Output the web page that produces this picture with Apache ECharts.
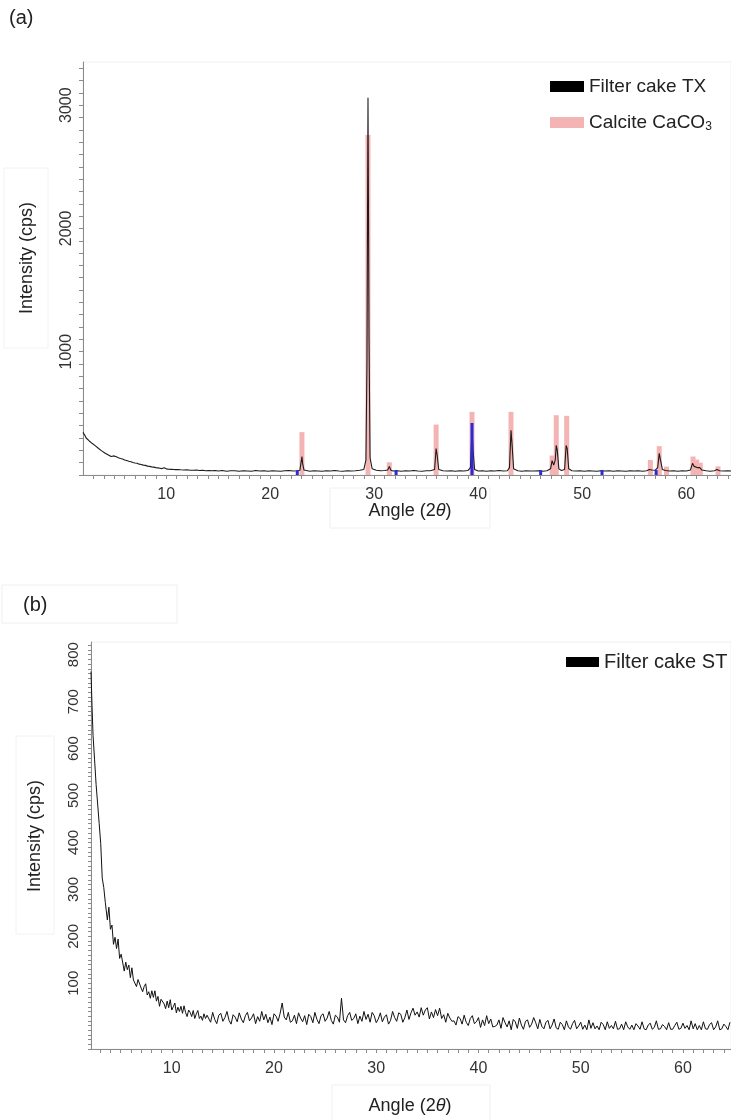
<!DOCTYPE html>
<html>
<head>
<meta charset="utf-8">
<script src="https://cdn.jsdelivr.net/npm/echarts@6/dist/echarts.min.js"></script>
<style>
html, body { margin: 0; padding: 0; background: #ffffff; }
#chart { width: 731px; height: 1120px; }
</style>
</head>
<body>
<div id="chart"></div>
<script>
// ---- (a) Filter cake TX: measured scan [2θ, cps] ----
const TX_SCAN = [
  [2.0,346],[2.1,330],[2.2,318],[2.3,300],[2.45,290],[2.6,276],[2.75,270],[2.9,255],[3.05,248],[3.2,236],
  [3.35,228],[3.5,215],[3.65,210],[3.8,196],[3.95,190],[4.1,178],[4.25,172],[4.4,165],[4.55,170],[4.7,150],
  [4.85,140],[5.0,155],[5.2,148],[5.4,140],[5.6,134],[5.8,130],[6.0,122],[6.2,118],[6.4,112],[6.6,108],
  [6.8,102],[7.0,98],[7.2,95],[7.4,88],[7.6,85],[7.8,80],[8.0,78],[8.2,72],[8.4,70],[8.6,66],
  [8.8,64],[9.0,60],[9.2,58],[9.4,55],[9.6,52],[9.8,58],[10.0,50],[10.2,48],[10.5,46],[10.8,44],
  [11.1,45],[11.4,42],[11.7,40],[12.0,43],[12.3,39],[12.6,38],[12.9,40],[13.2,36],[13.5,38],[13.8,35],
  [14.1,37],[14.4,34],[14.7,36],[15.0,33],[15.4,36],[15.8,31],[16.2,35],[16.6,34],[17.0,30],[17.4,35],
  [17.8,33],[18.2,31],[18.6,36],[19.0,32],[19.4,34],[19.8,30],[20.2,35],[20.6,33],[21.0,31],[21.4,34],
  [21.8,36],[22.2,32],[22.6,35],[22.85,38],[23.0,120],[23.05,150],[23.12,90],[23.25,40],[23.4,34],[23.8,31],
  [24.2,35],[24.6,33],[25.0,30],[25.4,34],[25.8,32],[26.2,36],[26.6,33],[27.0,31],[27.4,35],[27.8,32],
  [28.2,34],[28.6,38],[29.0,45],[29.2,120],[29.3,900],[29.4,3060],[29.5,1100],[29.6,140],[29.8,50],[30.2,38],
  [30.6,34],[31.0,36],[31.3,40],[31.45,70],[31.6,38],[31.8,33],[32.2,35],[32.6,31],[33.0,34],[33.4,32],
  [33.8,36],[34.2,33],[34.6,31],[35.0,35],[35.4,34],[35.8,45],[35.95,215],[36.05,160],[36.2,45],[36.6,34],
  [37.0,32],[37.4,35],[37.8,31],[38.2,34],[38.6,33],[39.0,36],[39.25,60],[39.4,380],[39.5,200],[39.65,45],
  [40.0,33],[40.4,35],[40.8,31],[41.2,34],[41.6,32],[42.0,36],[42.4,33],[42.8,35],[43.0,60],[43.15,362],
  [43.25,250],[43.4,50],[43.8,34],[44.2,31],[44.6,35],[45.0,33],[45.4,32],[45.8,34],[46.2,31],[46.6,35],
  [46.95,50],[47.1,117],[47.25,80],[47.4,120],[47.5,240],[47.6,200],[47.75,50],[48.0,36],[48.3,45],[48.45,240],
  [48.55,215],[48.7,50],[49.0,34],[49.4,32],[49.8,35],[50.2,31],[50.6,34],[51.0,33],[51.4,30],[51.8,35],
  [52.2,32],[52.6,34],[53.0,31],[53.4,35],[53.8,33],[54.2,30],[54.6,34],[55.0,32],[55.4,35],[55.8,31],
  [56.2,34],[56.45,45],[56.55,60],[56.7,40],[57.0,38],[57.25,60],[57.4,175],[57.5,130],[57.7,45],[58.0,36],
  [58.4,33],[58.8,35],[59.2,31],[59.6,34],[60.0,33],[60.4,40],[60.6,95],[60.75,70],[60.9,80],[61.05,60],
  [61.3,60],[61.5,40],[61.9,34],[62.3,31],[62.7,35],[62.95,45],[63.05,50],[63.2,35],[63.6,32],[64.0,34],
  [64.3,33]
];

// Calcite CaCO3 reference reflections [2θ, cps]
const CALCITE_PEAKS = [
  [23.05,348],[29.4,2758],[31.45,103],[35.95,409],[39.4,512],[43.15,512],[47.1,158],[47.5,485],
  [48.5,480],[56.55,122],[57.4,234],[58.1,68],[60.65,150],[61.0,125],[61.35,100],[63.05,70]
];

// second phase reflections (blue sticks) [2θ, cps]
const SECOND_PHASE_PEAKS = [
  [22.6,38],[32.1,40],[39.4,422],[46.0,40],[51.9,40],[57.1,40]
];

// ---- (b) Filter cake ST: measured scan [2θ, cps] ----
const ST_SCAN = [
  [2.1,764],[2.2,691],[2.3,628],[2.45,576],[2.6,523],[2.75,482],[2.9,440],[3.05,398],[3.2,324],[3.35,304],
  [3.5,272],[3.7,235],[3.85,262],[4.0,215],[4.15,224],[4.3,183],[4.45,198],[4.6,174],[4.75,194],[4.9,153],
  [5.05,162],[5.2,166],[5.35,126],[5.5,145],[5.65,129],[5.8,139],[5.95,112],[6.1,133],[6.25,107],[6.4,111],
  [6.55,93],[6.7,108],[6.85,108],[7.0,90],[7.15,82],[7.3,93],[7.45,99],[7.6,75],[7.75,82],[7.9,68],
  [8.05,84],[8.2,70],[8.35,84],[8.5,62],[8.65,72],[8.8,51],[8.95,66],[9.1,70],[9.25,56],[9.4,46],
  [9.55,62],[9.7,48],[9.85,65],[10.0,43],[10.15,50],[10.3,58],[10.45,37],[10.6,49],[10.75,40],[10.9,51],
  [11.05,36],[11.2,52],[11.35,38],[11.5,29],[11.65,43],[11.8,38],[11.95,29],[12.1,42],[12.25,25],[12.4,35],
  [12.55,42],[12.7,25],[12.85,30],[13.0,21],[13.15,35],[13.3,25],[13.45,32],
  [13.6,30],[13.8,17],[14.0,38],[14.2,23],[14.4,14],[14.6,32],[14.8,36],[15.0,19],[15.2,27],[15.4,40],
  [15.6,21],[15.8,13],[16.0,33],[16.2,28],[16.4,18],[16.6,37],[16.8,24],[17.0,16],[17.2,31],[17.4,38],
  [17.6,20],[17.8,26],[18.0,35],[18.2,14],[18.4,29],[18.6,19],[18.8,40],[19.0,22],[19.2,34],[19.4,16],
  [19.6,28],[19.8,12],[20.0,35],[20.2,30],[20.4,19],[20.6,36],[20.8,58],[21.0,28],[21.2,22],[21.4,38],
  [21.6,17],[21.8,20],[22.0,32],[22.2,14],[22.4,37],[22.6,26],[22.8,18],[23.0,31],[23.2,12],[23.4,34],
  [23.6,29],[23.8,16],[24.0,38],[24.2,23],[24.4,14],[24.6,31],[24.8,35],[25.0,19],[25.2,26],[25.4,40],
  [25.6,21],[25.8,13],[26.0,32],[26.2,28],[26.4,17],[26.6,68],[26.8,22],[27.0,16],[27.2,31],[27.4,38],
  [27.6,21],[27.8,25],[28.0,35],[28.2,14],[28.4,30],[28.6,19],[28.8,40],[29.0,23],[29.2,34],[29.4,17],
  [29.6,38],[29.8,31],[30.0,16],[30.2,24],[30.4,37],[30.6,18],[30.8,28],[31.0,33],[31.2,13],[31.4,21],
  [31.6,40],[31.8,27],[32.0,19],[32.2,37],[32.4,34],[32.6,17],[32.8,27],[33.0,43],[33.2,23],[33.4,37],
  [33.6,47],[33.8,32],[34.0,39],[34.2,28],[34.4,48],[34.6,32],[34.8,43],[35.0,48],[35.2,24],[35.4,39],
  [35.6,27],[35.8,44],[36.0,31],[36.2,47],[36.4,25],[36.6,33],[36.8,17],[37.0,36],[37.2,26],[37.4,19],
  [37.6,20],[37.8,11],[38.0,29],[38.2,25],[38.4,13],[38.6,32],[38.8,17],[39.0,10],[39.2,25],[39.4,31],
  [39.6,14],[39.8,18],[40.0,27],[40.2,6],[40.4,22],[40.6,10],[40.8,31],[41.0,14],[41.2,24],[41.4,7],
  [41.6,8],[41.8,11],[42.0,22],[42.2,4],[42.4,27],[42.6,16],[42.8,7],[43.0,20],[43.2,1],[43.4,23],
  [43.6,18],[43.8,4],[44.0,26],[44.2,11],[44.4,2],[44.6,19],[44.8,22],[45.0,6],[45.2,13],[45.4,27],
  [45.6,16],[45.8,3],[46.0,23],[46.2,8],[46.4,3],[46.6,17],[46.8,21],[47.0,3],[47.2,11],[47.4,24],
  [47.6,5],[47.8,2],[48.0,17],[48.2,12],[48.4,1],[48.6,20],[48.8,7],[49.0,2],[49.2,14],[49.4,21],
  [49.6,3],[49.8,9],[50.0,17],[50.2,2],[50.4,11],[50.6,1],[50.8,22],[51.0,4],[51.2,16],[51.4,3],
  [51.6,9],[51.8,1],[52.0,17],[52.2,12],[52.4,1],[52.6,18],[52.8,4],[53.0,10],[53.2,3],[53.4,19],
  [53.6,2],[53.8,3],[54.0,13],[54.2,1],[54.4,18],[54.6,7],[54.8,2],[55.0,11],[55.2,1],[55.4,14],
  [55.6,9],[55.8,2],[56.0,18],[56.2,3],[56.4,1],[56.6,11],[56.8,15],[57.0,2],[57.2,6],[57.4,20],
  [57.6,2],[57.8,3],[58.0,12],[58.2,8],[58.4,1],[58.6,16],[58.8,2],[59.0,2],[59.2,10],[59.4,17],
  [59.6,2],[59.8,4],[60.0,15],[60.2,4],[60.4,10],[60.6,1],[60.8,20],[61.0,3],[61.2,14],[61.4,1],
  [61.6,10],[61.8,1],[62.0,18],[62.2,3],[62.4,2],[62.6,12],[62.8,16],[63.0,1],[63.2,7],[63.4,20],
  [63.6,1],[63.8,3],[64.0,13],[64.2,8],[64.4,1],[64.6,17]
];

// tick labels
const ANGLE_LABELS = [10, 20, 30, 40, 50, 60];
const TX_INTENSITY_LABELS = [1000, 2000, 3000];
const ST_INTENSITY_LABELS = [100, 200, 300, 400, 500, 600, 700, 800];

// minor tick positions (every 1° on angle, every 100 / 10 cps on intensity)
function ticks(from, to, step) {
  const out = [];
  for (let v = from; v <= to + 1e-9; v += step) out.push(Math.round(v * 100) / 100);
  return out;
}
const ANGLE_TICKS = ticks(3, 64, 1);
const TX_INTENSITY_TICKS = ticks(0, 3300, 100);
const ST_INTENSITY_TICKS = ticks(-40, 820, 10);

const FONT = 'Liberation Sans, Arial, Helvetica, sans-serif';
const AXIS_GREY = '#8a8a8a';
const LABEL_GREY = '#333333';
const TEXT = '#222222';
const plain = function (v) { return String(v); };

function angleAxis(gridIndex, min, max, visible) {
  return {
    type: 'value', gridIndex: gridIndex, min: min, max: max, show: visible,
    axisLine: { show: true, onZero: false, lineStyle: { color: AXIS_GREY, width: 1 } },
    axisTick: { show: true, customValues: ANGLE_TICKS, length: 4, lineStyle: { color: AXIS_GREY } },
    axisLabel: { customValues: ANGLE_LABELS, formatter: plain, fontSize: 16, color: LABEL_GREY, fontFamily: FONT, margin: 12 },
    splitLine: { show: false }
  };
}

function titleText(x, y) {
  return {
    type: 'text', x: x, y: y,
    style: {
      text: '{n|Angle (2}{t|θ}{n|)}', align: 'center', verticalAlign: 'middle',
      rich: { n: { font: '18px ' + FONT, fill: TEXT }, t: { font: 'italic 18px ' + FONT, fill: TEXT } }
    }
  };
}

const chart = echarts.init(document.getElementById('chart'), null, { renderer: 'canvas' });

chart.setOption({
  animation: false,
  backgroundColor: '#ffffff',
  grid: [
    { left: 83, top: 62, width: 648, height: 413, show: true, borderColor: '#f0f0f0', borderWidth: 1 },
    { left: 91, top: 642, width: 640, height: 407, show: true, borderColor: '#f0f0f0', borderWidth: 1 }
  ],
  xAxis: [
    angleAxis(0, 2.0, 64.3, true),
    angleAxis(0, 2.0, 64.3, false),
    angleAxis(1, 2.1, 64.7, true)
  ],
  yAxis: [
    {
      type: 'value', gridIndex: 0, min: 0, max: 3350,
      axisLine: { show: true, onZero: false, lineStyle: { color: AXIS_GREY, width: 1 } },
      axisTick: { show: true, customValues: TX_INTENSITY_TICKS, length: 4, lineStyle: { color: AXIS_GREY } },
      axisLabel: { customValues: TX_INTENSITY_LABELS, formatter: plain, rotate: 90, fontSize: 16, color: LABEL_GREY, fontFamily: FONT, margin: 8 },
      splitLine: { show: false }
    },
    {
      type: 'value', gridIndex: 1, min: -40, max: 827,
      axisLine: { show: true, onZero: false, lineStyle: { color: AXIS_GREY, width: 1 } },
      axisTick: { show: true, customValues: ST_INTENSITY_TICKS, length: 3, lineStyle: { color: AXIS_GREY } },
      axisLabel: { customValues: ST_INTENSITY_LABELS, formatter: plain, rotate: 90, fontSize: 15, color: LABEL_GREY, fontFamily: FONT, margin: 10 },
      splitLine: { show: false }
    }
  ],
  legend: [
    {
      data: ['Filter cake TX', 'Calcite CaCO3'],
      orient: 'vertical', left: 545, top: 72, itemGap: 17,
      itemWidth: 34, itemHeight: 11, icon: 'rect',
      formatter: function (name) {
        return name === 'Calcite CaCO3' ? '{a|Calcite CaCO}{s|3}' : '{a|Filter cake TX}';
      },
      textStyle: {
        color: TEXT, fontFamily: FONT, fontSize: 19,
        rich: {
          a: { fontSize: 19, fontFamily: FONT, color: TEXT },
          s: { fontSize: 12, fontFamily: FONT, color: TEXT, padding: [9, 0, 0, 0] }
        }
      }
    },
    {
      data: ['Filter cake ST'],
      orient: 'vertical', left: 561, top: 647,
      itemWidth: 33, itemHeight: 10, icon: 'rect',
      textStyle: { color: TEXT, fontFamily: FONT, fontSize: 20 }
    }
  ],
  series: [
    {
      name: 'Calcite CaCO3', type: 'bar', xAxisIndex: 0, yAxisIndex: 0,
      data: CALCITE_PEAKS, barWidth: 5,
      itemStyle: { color: '#f5b4b4' }, z: 2
    },
    {
      name: 'Filter cake TX', type: 'line', xAxisIndex: 0, yAxisIndex: 0,
      data: TX_SCAN, showSymbol: false, symbol: 'none',
      lineStyle: { color: '#1c1c1c', width: 1.1 }, itemStyle: { color: '#000000' }, z: 3
    },
    {
      name: 'Second phase', type: 'bar', xAxisIndex: 1, yAxisIndex: 0,
      data: SECOND_PHASE_PEAKS, barWidth: 3,
      itemStyle: { color: '#2b2bd6' }, z: 4
    },
    {
      name: 'Filter cake ST', type: 'line', xAxisIndex: 2, yAxisIndex: 1,
      data: ST_SCAN, showSymbol: false, symbol: 'none',
      lineStyle: { color: '#111111', width: 1 }, itemStyle: { color: '#000000' }, z: 3
    }
  ],
  graphic: [
    { type: 'text', left: 9, top: 8, style: { text: '(a)', font: '20px ' + FONT, fill: TEXT } },
    { type: 'rect', shape: { x: 2, y: 585, width: 175, height: 38 }, style: { fill: 'none', stroke: '#f0f0f0', lineWidth: 1 } },
    { type: 'text', left: 23, top: 595, style: { text: '(b)', font: '20px ' + FONT, fill: TEXT } },
    // axis titles
    { type: 'rect', shape: { x: 4, y: 168, width: 44, height: 180 }, style: { fill: 'none', stroke: '#f2f2f2', lineWidth: 1 } },
    { type: 'text', x: 27, y: 258, rotation: Math.PI / 2,
      style: { text: 'Intensity (cps)', font: '18px ' + FONT, fill: TEXT, align: 'center', verticalAlign: 'middle' } },
    { type: 'rect', shape: { x: 16, y: 736, width: 38, height: 198 }, style: { fill: 'none', stroke: '#f2f2f2', lineWidth: 1 } },
    { type: 'text', x: 35, y: 836, rotation: Math.PI / 2,
      style: { text: 'Intensity (cps)', font: '18px ' + FONT, fill: TEXT, align: 'center', verticalAlign: 'middle' } },
    { type: 'rect', shape: { x: 330, y: 488, width: 160, height: 40 }, style: { fill: 'none', stroke: '#f0f0f0', lineWidth: 1 } },
    titleText(410, 511),
    { type: 'rect', shape: { x: 332, y: 1085, width: 158, height: 40 }, style: { fill: 'none', stroke: '#f0f0f0', lineWidth: 1 } },
    titleText(410, 1106)
  ]
});
</script>
</body>
</html>
